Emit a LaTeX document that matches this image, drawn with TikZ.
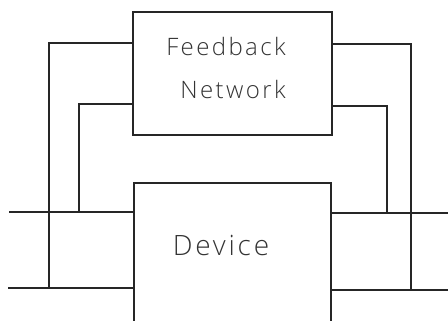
\documentclass[tikz,border=0pt]{standalone}
\usepackage{fontspec}
\setmainfont{Open Sans}
\newfontfamily\handfont[LetterSpace=10]{Open Sans Light}
\begin{document}
\begin{tikzpicture}[x=1pt,y=1pt,
  wire/.style={line width=1.3pt,black!85},
  blk/.style={draw,line width=1.3pt,black!85,rectangle,inner sep=0pt},
  lbl/.style={font=\handfont\fontsize{24}{28}\selectfont,text=black!80}]
\useasboundingbox (0,0) rectangle (448,321);
\clip (0,0) rectangle (448,321);
\node[blk,minimum width=199pt,minimum height=123pt] (fb) at (232.5,247.5) {};
\node[blk,minimum width=197pt,minimum height=170pt] (dev) at (232.5,53) {};
\node[lbl] (t1) at (226,274) {Feedback};
\node[lbl] (t2) at (233,231) {Network};
\node[lbl,font=\handfont\fontsize{28}{32}\selectfont] (t3) at (221,76) {Device};
% free ends
\coordinate (L1) at (9,109);
\coordinate (L2) at (8,33);
\coordinate (R1) at (448,108);
\coordinate (R2) at (448,31);
\coordinate (JL1) at (49,33);
\coordinate (JL2) at (79,109);
\coordinate (JR1) at (411,31);
\coordinate (JR2) at (387,108);
% horizontal leads
\draw[wire] (L1) -- (dev.west |- L1);
\draw[wire] (L2) -- (dev.west |- L2);
\draw[wire] (dev.east |- R1) -- (R1);
\draw[wire] (dev.east |- R2) -- (R2);
% feedback loops
\draw[wire] (fb.west |- 0,278) -| (JL1);
\draw[wire] (fb.west |- 0,217) -| (JL2);
\draw[wire] (fb.east |- 0,277) -| (JR1);
\draw[wire] (fb.east |- 0,215) -| (JR2);
\end{tikzpicture}
\end{document}
